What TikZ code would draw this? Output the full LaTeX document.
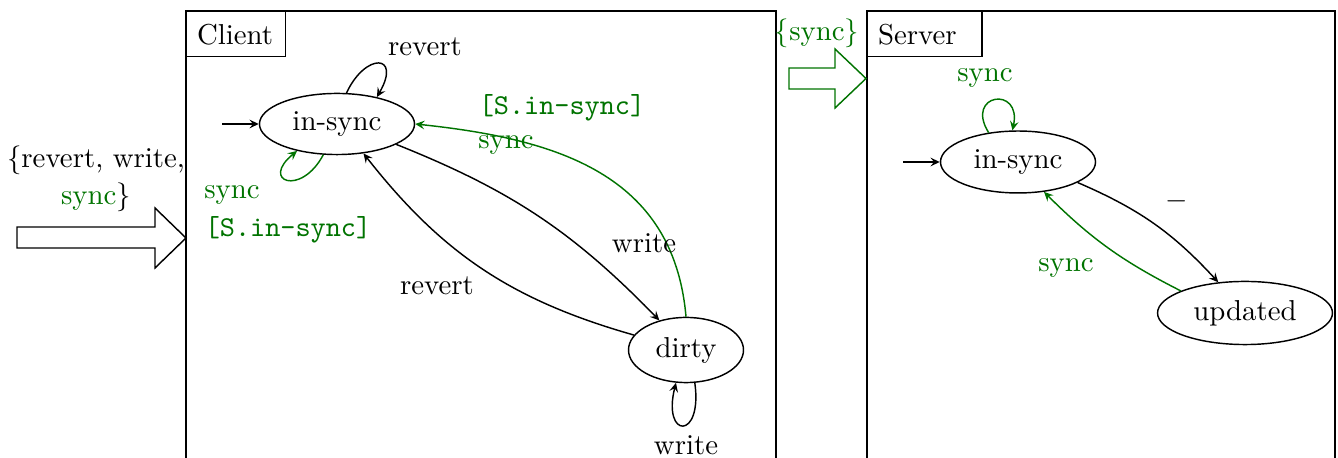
\documentclass[tikz,border=0pt]{standalone}
\usetikzlibrary{shapes.geometric,arrows.meta}
\colorlet{sgreen}{green!45!black}
\begin{document}
\begin{tikzpicture}[x=0.347pt,y=0.347pt,line width=0.5pt,
  >={Stealth[length=3.2pt,width=3pt,inset=1.2pt]},
  state/.style={draw,ellipse,inner sep=0pt},
  glab/.style={text=sgreen},
  guard/.style={text=sgreen,font=\ttfamily},
  tabbox/.style={draw,anchor=north west,inner xsep=3.6pt,inner ysep=0pt,minimum height=15.6pt,align=left},
  gtr/.style={->,draw=sgreen}]
\clip (0,0) rectangle (1338,458);
% frames
\draw (186,-20) rectangle (776,447);
\draw (867,-20) rectangle (1335,447);
\node[tabbox,text width=27.1pt] (ctab) at (186,447) {Client};
\node[tabbox,text width=32.4pt] (stab) at (867,447) {Server};
% input arrows
\draw (17,231) -- (155,231) -- (155,250) -- (186,220) -- (155,190) -- (155,210) -- (17,210) -- cycle;
\draw[sgreen] (789,390) -- (835,390) -- (835,409) -- (866,379.5) -- (835,350) -- (835,369) -- (789,369) -- cycle;
\node (inp1) at (96,298) {$\{$revert, write,};
\node (inp2) at (96,261) {\textcolor{sgreen}{sync}$\}$};
\node[glab] (inpS) at (817,425) {$\{$sync$\}$};
% states
\node[state,minimum width=53.8pt,minimum height=21.2pt] (isC) at (337,334) {in-sync};
\node[state,minimum width=39.9pt,minimum height=22.6pt] (dirty) at (686,108) {dirty};
\node[state,minimum width=53.8pt,minimum height=21.5pt] (isS) at (1018,296) {in-sync};
\node[state,minimum width=60.7pt,minimum height=21.9pt] (upd) at (1245,145) {updated};
% initial
\coordinate (iC) at (222,334);
\coordinate (iS) at (903,296);
\draw[->] (iC) -- (isC.west);
\draw[->] (iS) -- (isS.west);
% loops
\draw[->] (isC.73) .. controls +(65:45) and +(60:50) .. (isC.34);
\draw[gtr] (isC.-114) .. controls +(-118:48) and +(-141:48) .. (isC.-146);
\draw[->] (dirty.-75) .. controls +(-82:58) and +(-104:58) .. (dirty.-107);
\draw[gtr] (isS.135) .. controls +(122:46) and +(78:46) .. (isS.100);
% edges
\draw[->] (isC.-19) to[bend left=12] (dirty.132);
\draw[->] (dirty.164) to[bend left=18] (isC.-48);
\draw[gtr] (dirty.90) to[out=95,in=-6,looseness=1.1] (isC.0);
\draw[->] (isS.-19) to[bend left=12] (upd.131);
\draw[gtr] (upd.161) to[bend left=9] (isS.-49);
% labels
\node (lrevC) at (425,411) {revert};
\node[glab] (lsyncC) at (232,263) {sync};
\node[guard] (lguardC) at (288,228) {[S.in-sync]};
\node (lwrite1) at (644,215) {write};
\node (lrev2) at (437,172) {revert};
\node (lwrite2) at (686,13) {write};
\node[guard] (lguard2) at (562,350) {[S.in-sync]};
\node[glab] (lsync2) at (506,313) {sync};
\node[glab] (lsyncS) at (985,380) {sync};
\node (ldash) at (1177,257) {$-$};
\node[glab] (lsyncS2) at (1066,190) {sync};
\end{tikzpicture}
\end{document}
